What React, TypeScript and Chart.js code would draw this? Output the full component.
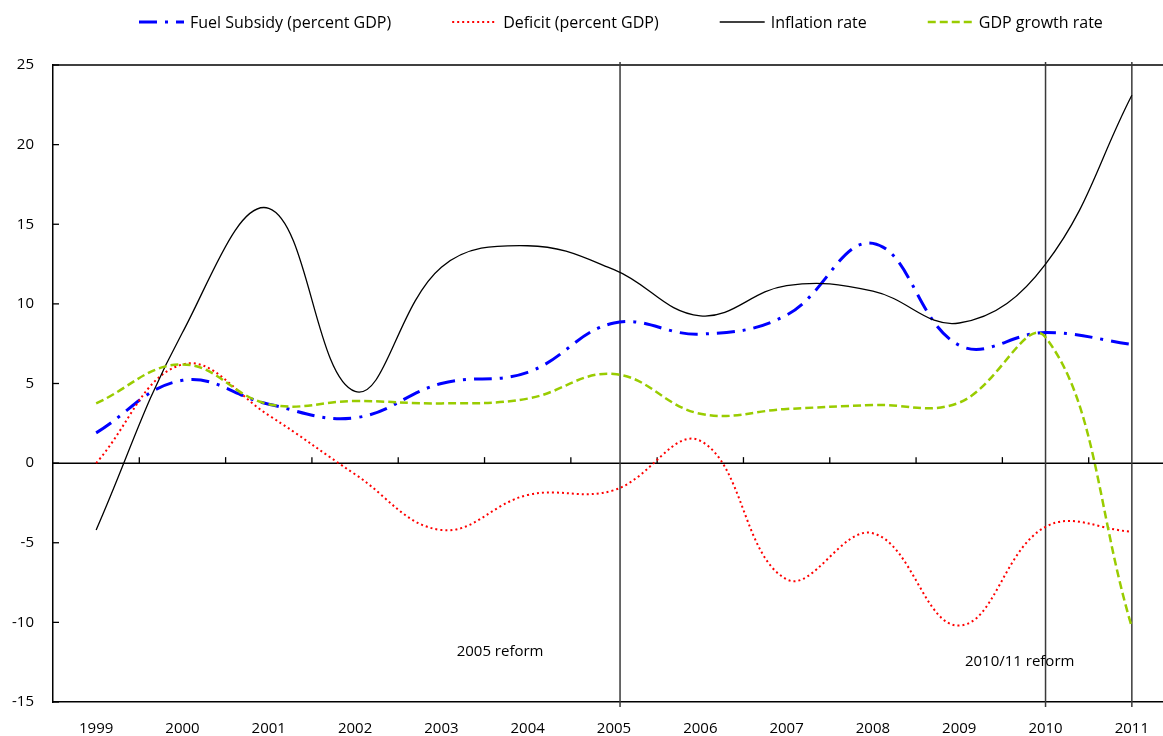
import React, { useEffect, useRef } from "react";
import { Chart, registerables } from "chart.js";

Chart.register(...registerables);

// ---- data ----
const years = ["1999", "2000", "2001", "2002", "2003", "2004", "2005", "2006", "2007", "2008", "2009", "2010", "2011"];
const fuelSubsidy = [1.9, 5.2, 3.7, 2.85, 5.0, 5.7, 8.8, 8.1, 9.3, 13.8, 7.4, 8.2, 7.45];
const deficit = [0, 6.2, 3.0, -0.7, -4.2, -2.0, -1.7, 1.4, -7.3, -4.4, -10.2, -4.0, -4.3];
const inflation = [-4.2, 8.2, 16.0, 4.5, 12.3, 13.65, 12.15, 9.25, 11.15, 10.8, 8.8, 12.5, 23.1];
const gdpGrowth = [3.75, 6.2, 3.7, 3.9, 3.75, 4.05, 5.6, 3.1, 3.4, 3.65, 3.8, 7.9, -10.3];

const yMin = -15;
const yMax = 25;
const yStep = 5;

const seriesNames = ["Fuel Subsidy (percent GDP)", "Deficit (percent GDP)", "Inflation rate", "GDP growth rate"];
const reformYears = ["2005", "2010", "2011"];
const reformLabels = ["2005 reform", "2010/11 reform"];
// annotation anchors: fractional category index and y value
const reformLabelPos = [
  { idx: 4.68, y: -11.85 },
  { idx: 10.7, y: -12.45 },
];

const FONT = "'Open Sans', 'Noto Sans', sans-serif";

const framePlugin = {
  id: "frame",
  beforeDatasetsDraw(chart: any) {
    const { ctx, chartArea } = chart;
    const x = chart.scales.x;
    const y = chart.scales.y;
    ctx.save();
    ctx.strokeStyle = "#000";
    ctx.lineWidth = 1.5;
    // top border
    ctx.beginPath();
    ctx.moveTo(chartArea.left, chartArea.top);
    ctx.lineTo(chartArea.right, chartArea.top);
    ctx.stroke();
    // y tick marks (inside)
    ctx.lineWidth = 1.3;
    for (let v = yMin; v <= yMax; v += yStep) {
      const py = y.getPixelForValue(v);
      ctx.beginPath();
      ctx.moveTo(chartArea.left, py);
      ctx.lineTo(chartArea.left + 6, py);
      ctx.stroke();
    }
    // zero line with tick marks between categories
    const y0 = y.getPixelForValue(0);
    ctx.lineWidth = 1.5;
    ctx.beginPath();
    ctx.moveTo(chartArea.left, y0);
    ctx.lineTo(chartArea.right, y0);
    ctx.stroke();
    ctx.lineWidth = 1.3;
    for (let i = 0; i < years.length - 1; i++) {
      const px = (x.getPixelForValue(i) + x.getPixelForValue(i + 1)) / 2;
      ctx.beginPath();
      ctx.moveTo(px, y0);
      ctx.lineTo(px, y0 - 6);
      ctx.stroke();
    }
    // reform lines
    const spacing = x.getPixelForValue(1) - x.getPixelForValue(0);
    ctx.strokeStyle = "#3a3a3a";
    ctx.lineWidth = 1.5;
    reformYears.forEach((yr, k) => {
      let px = x.getPixelForValue(years.indexOf(yr));
      if (k === 0) px += spacing * 0.07;
      ctx.beginPath();
      ctx.moveTo(px, chartArea.top - 3);
      ctx.lineTo(px, chartArea.bottom + 5);
      ctx.stroke();
    });
    // labels
    ctx.fillStyle = "#000";
    ctx.font = `15px ${FONT}`;
    ctx.textAlign = "center";
    ctx.textBaseline = "middle";
    reformLabels.forEach((t, k) => {
      const p = reformLabelPos[k];
      const i0 = Math.floor(p.idx);
      const px = x.getPixelForValue(i0) + (p.idx - i0) * spacing;
      ctx.fillText(t, px, y.getPixelForValue(p.y));
    });
    ctx.restore();
  },
  afterDraw(chart: any) {
    // legend
    const { ctx } = chart;
    const ds = chart.data.datasets;
    ctx.save();
    ctx.font = `16px ${FONT}`;
    ctx.textBaseline = "middle";
    ctx.textAlign = "left";
    const sample = 45;
    const gapIn = 6;
    const gapOut = 61;
    let cx = 139;
    const cy = 22;
    ds.forEach((d: any) => {
      ctx.strokeStyle = d.borderColor;
      ctx.lineWidth = d.borderWidth;
      ctx.setLineDash(d.borderDash || []);
      ctx.beginPath();
      ctx.moveTo(cx, cy);
      ctx.lineTo(cx + sample, cy);
      ctx.stroke();
      ctx.setLineDash([]);
      ctx.fillStyle = "#000";
      ctx.fillText(d.label, cx + sample + gapIn, cy + 1);
      cx += sample + gapIn + ctx.measureText(d.label).width + gapOut;
    });
    ctx.restore();
  },
};

export default function App() {
  const ref = useRef<HTMLCanvasElement | null>(null);

  useEffect(() => {
    document.body.style.margin = "0";
    if (!ref.current) return;
    const tension = 0.4;
    const chart = new Chart(ref.current, {
      type: "line",
      data: {
        labels: years,
        datasets: [
          {
            label: seriesNames[0],
            data: fuelSubsidy,
            borderColor: "#0000ff",
            borderWidth: 3,
            borderDash: [18, 8, 3, 8],
            pointRadius: 0,
            tension,
            order: 3,
          },
          {
            label: seriesNames[1],
            data: deficit,
            borderColor: "#ff0000",
            borderWidth: 2,
            borderDash: [2, 3],
            pointRadius: 0,
            tension,
            order: 2,
          },
          {
            label: seriesNames[2],
            data: inflation,
            borderColor: "#000000",
            borderWidth: 1.3,
            pointRadius: 0,
            tension,
            order: 1,
          },
          {
            label: seriesNames[3],
            data: gdpGrowth,
            borderColor: "#99cc00",
            borderWidth: 2.5,
            borderDash: [8, 4],
            pointRadius: 0,
            tension,
            order: 0,
          },
        ],
      },
      options: {
        animation: false,
        responsive: true,
        maintainAspectRatio: false,
        layout: { padding: { top: 65, right: 5, left: 0, bottom: 0 } },
        plugins: {
          legend: { display: false },
          tooltip: { enabled: false },
        },
        scales: {
          x: {
            type: "category",
            offset: true,
            grid: { display: false, drawTicks: false },
            border: { display: true, color: "#000", width: 1.5 },
            ticks: {
              color: "#000",
              font: { family: FONT, size: 15 },
              padding: 18,
              maxRotation: 0,
              autoSkip: false,
            },
            afterFit(s: any) {
              s.height = 34;
            },
          },
          y: {
            min: yMin,
            max: yMax,
            grid: { display: false, drawTicks: false },
            border: { display: true, color: "#000", width: 1.5 },
            ticks: {
              stepSize: yStep,
              color: "#000",
              font: { family: FONT, size: 15 },
              padding: 19,
            },
            afterFit(s: any) {
              s.width = 53;
            },
          },
        },
      },
      plugins: [framePlugin],
    });
    return () => chart.destroy();
  }, []);

  return (
    <div style={{ position: "fixed", left: 0, top: 0, width: 1163, height: 736, overflow: "hidden", background: "#fff" }}>
      <div style={{ position: "relative", width: 1180, height: 736 }}>
        <canvas ref={ref} />
      </div>
    </div>
  );
}
